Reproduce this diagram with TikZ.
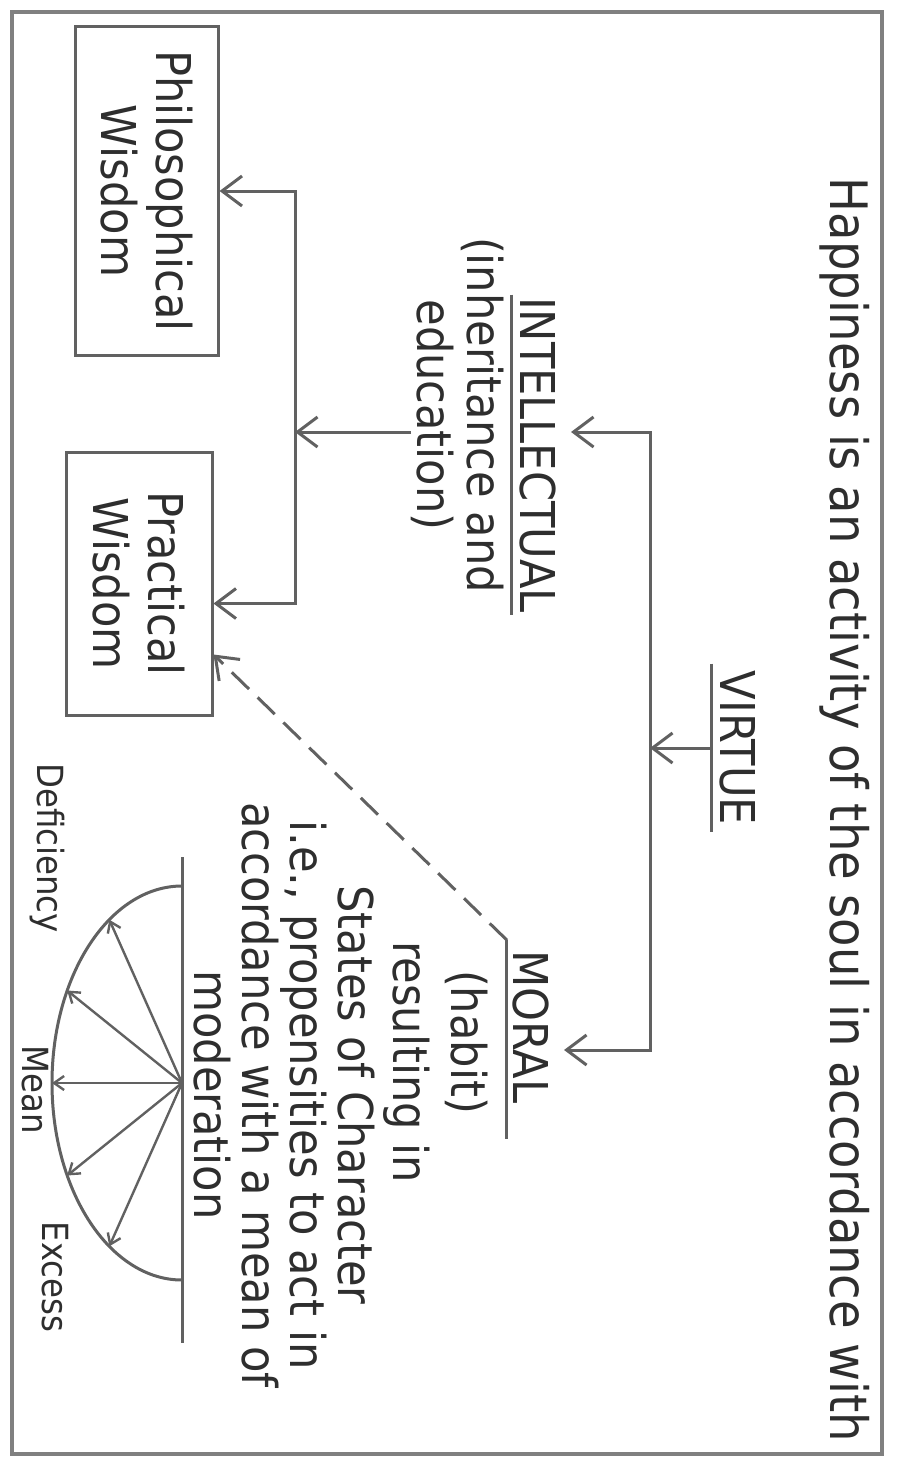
\documentclass[tikz,border=0pt]{standalone}
\usepackage{fontspec}
\setmainfont{DejaVu Sans Condensed}
\usetikzlibrary{arrows.meta,calc}
\begin{document}
\begin{tikzpicture}[x=0.5pt,y=-0.5pt,
  line/.style={draw=black!62, line width=1.5pt},
  arr/.style={line, -{Straight Barb[length=10pt,width=15pt]}},
  sarr/.style={draw=black!62, line width=1.2pt, -{Straight Barb[length=5pt,width=7pt]}},
  lbl/.style={rotate=-90, text=black!82, font=\fontsize{24}{24}\selectfont, align=center, inner sep=0pt},
  wbox/.style={lbl, draw=black!62, line width=1.5pt, font=\fontsize{24}{27.5}\selectfont},
  small/.style={lbl, font=\fontsize{18}{20}\selectfont},
]
\useasboundingbox (0,0) rectangle (901,1461);
\draw[draw=black!50, line width=1.6pt] (12,12) rectangle (882,1454);

\node[lbl, font=\fontsize{25.8}{26}\selectfont] (title) at (845,810) {Happiness is an activity of the soul in accordance with};

\coordinate (vtop) at (650,432);
\coordinate (vbot) at (650,1050);

\node[lbl] (virtue) at (737.5,748) {VIRTUE};
\coordinate (vul) at ($(virtue.south west)+(-8,-7)$);
\coordinate (vur) at ($(virtue.south east)+(-8,7)$);
\draw[line] (vul) -- (vur);
\draw[arr] ($(virtue.south)+(-8,0)$) -- (virtue.south -| vtop);

\node[lbl] (intelT) at (537.5,455) {INTELLECTUAL};
\draw[line] ($(intelT.south west)+(-7,-2)$) -- ($(intelT.south east)+(-7,2)$);
\node[lbl, font=\fontsize{24}{25}\selectfont] (intelS) at (458,415) {(inheritance and\\education)};

\node[lbl] (moral) at (530.5,1027) {MORAL};
\coordinate (mul) at ($(moral.south west)+(-5,-10)$);
\coordinate (mur) at ($(moral.south east)+(-5,35)$);
\draw[line] (mul) -- (mur);
\node[lbl] (habit) at (467,1042) {(habit)};
\node[lbl] (result) at (407,1062) {resulting in};
\node[lbl] (desc) at (284,1095) {States of Character\\i.e., propensities to act in\\accordance with a mean of\\moderation};

\coordinate (tipI) at ($(intelT.north |- vtop)+(15,0)$);
\coordinate (tipM) at ($(moral.north |- vbot)+(15,0)$);
\draw[line, {Straight Barb[length=10pt,width=15pt]}-{Straight Barb[length=10pt,width=15pt]}] (tipI) -- (vtop) -- (vbot) -- (tipM);

\node[wbox, minimum width=164pt, minimum height=71.5pt] (philo) at (146.5,191) {Philosophical\\Wisdom};
\node[wbox, minimum width=131.5pt, minimum height=73pt] (prac) at (139,583.5) {Practical\\Wisdom};

\coordinate (jn) at (295,432);
\draw[arr] (intelS.south |- jn) -- (jn);
\draw[arr] (jn) |- (philo.north);
\draw[arr] (jn) |- ($(prac.north)+(0,20)$);

\draw[arr, dash pattern=on 12pt off 6pt] (mul) -- ($(prac.north)+(0,71)$);

\coordinate (c) at (182,1083);
\coordinate (bt) at (182,857);
\coordinate (bb) at (182,1343);
\draw[line] (bt) -- (bb);
\draw[line] ($(c)+(0,-197)$) arc[start angle=90, end angle=270, x radius=65pt, y radius=98.5pt];
\foreach \a in {236,208,180,152,124}
  \draw[sarr] (c) -- ($(c)+({130*cos(\a)},{197*sin(\a)})$);

\node[small] (def) at (47,848) {Deficiency};
\node[small] (mean) at (35,1090) {Mean};
\node[small] (exc) at (55,1277) {Excess};
\end{tikzpicture}
\end{document}
